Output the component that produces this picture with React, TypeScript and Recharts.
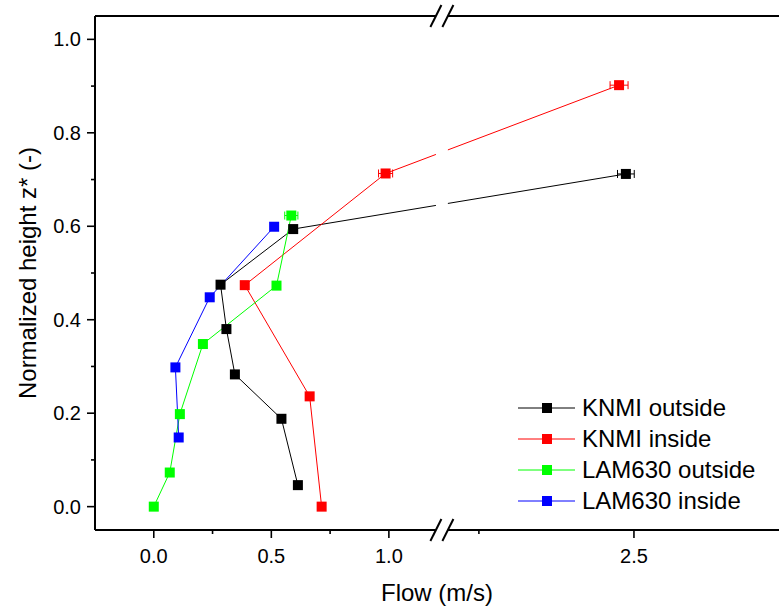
import React from 'react';
import {
  ScatterChart,
  Scatter,
  XAxis,
  YAxis,
  ErrorBar,
  ReferenceArea,
  ReferenceLine,
  Legend,
} from 'recharts';

// ---------- axis definition (real flow units) ----------
const X_MIN = -0.25;
const X_MAX = 3.0;
const Y_MIN = -0.05;
const Y_MAX = 1.05;
const BREAK_FROM = 1.2;
const BREAK_TO = 1.9;
const BREAK_GAP = 0.051; // width of the break gap, in left-segment units
const AFTER_SCALE = 1.319; // stretch of the segment after the break

const xMajorTicks = [0, 0.5, 1.0, 2.5];
const xMinorTicks = [0.25, 0.75, 2.0];
const yMajorTicks = [0, 0.2, 0.4, 0.6, 0.8, 1.0];
const yMinorTicks = [0.1, 0.3, 0.5, 0.7, 0.9];

// ---------- data ----------
const seriesNames = ['KNMI outside', 'KNMI inside', 'LAM630 outside', 'LAM630 inside'];
const seriesColors = ['#000000', '#ff0000', '#00ff00', '#0000ff'];

const knmiOutsideFlow = [0.613, 0.543, 0.345, 0.309, 0.284, 0.593, 2.474];
const knmiOutsideZ = [0.046, 0.188, 0.283, 0.38, 0.475, 0.594, 0.712];
const knmiOutsideErr = [0, 0, 0, 0, 0, 0, 0.027];

const knmiInsideFlow = [0.714, 0.663, 0.387, 0.986, 2.452];
const knmiInsideZ = [0.0, 0.236, 0.474, 0.713, 0.902];
const knmiInsideErr = [0, 0, 0, 0.03, 0.029];

const lamOutsideFlow = [0.0, 0.068, 0.111, 0.209, 0.522, 0.585];
const lamOutsideZ = [0.0, 0.073, 0.198, 0.348, 0.473, 0.623];
const lamOutsideErr = [0, 0, 0, 0, 0, 0.028];

const lamInsideFlow = [0.106, 0.092, 0.238, 0.512];
const lamInsideZ = [0.148, 0.298, 0.448, 0.599];
const lamInsideErr = [0, 0, 0, 0];

// ---------- broken-axis transform ----------
const toDisp = (v: number) =>
  v <= BREAK_FROM ? v : BREAK_FROM + BREAK_GAP + (v - BREAK_TO) * AFTER_SCALE;

const build = (flow: number[], z: number[], err: number[]) =>
  flow.map((f, i) => ({
    x: toDisp(f),
    y: z[i],
    err: toDisp(f + err[i]) - toDisp(f),
    hasErr: err[i] > 0,
  }));

const seriesData = [
  build(knmiOutsideFlow, knmiOutsideZ, knmiOutsideErr),
  build(knmiInsideFlow, knmiInsideZ, knmiInsideErr),
  build(lamOutsideFlow, lamOutsideZ, lamOutsideErr),
  build(lamInsideFlow, lamInsideZ, lamInsideErr),
];

const xTickInfo = [
  ...xMajorTicks.map((v) => ({ d: toDisp(v), major: true, label: v.toFixed(1) })),
  ...xMinorTicks.map((v) => ({ d: toDisp(v), major: false, label: '' })),
].sort((a, b) => a.d - b.d);
const xTicksDisp = xTickInfo.map((t) => t.d);

const yTickInfo = [
  ...yMajorTicks.map((v) => ({ d: v, major: true, label: v.toFixed(1) })),
  ...yMinorTicks.map((v) => ({ d: v, major: false, label: '' })),
].sort((a, b) => a.d - b.d);
const yTicks = yTickInfo.map((t) => t.d);

const FONT = '"Liberation Sans", Arial, Helvetica, sans-serif';
const MAJOR = 8;
const MINOR = 4;

const findTick = (list: { d: number; major: boolean; label: string }[], v: number) =>
  list.reduce((best, t) => (Math.abs(t.d - v) < Math.abs(best.d - v) ? t : best), list[0]);

const BottomTick = (p: any) => {
  const info = findTick(xTickInfo, p.payload.value);
  const len = info.major ? MAJOR : MINOR;
  return (
    <g>
      <line x1={p.x} y1={p.y} x2={p.x} y2={p.y + len} stroke="#000" strokeWidth={1.6} />
      {info.major && (
        <text x={p.x} y={p.y + 33} textAnchor="middle" fontSize={20} fontFamily={FONT} fill="#000">
          {info.label}
        </text>
      )}
    </g>
  );
};

const TopTick = (p: any) => {
  const info = findTick(xTickInfo, p.payload.value);
  const len = info.major ? MAJOR : MINOR;
  return <line x1={p.x} y1={p.y} x2={p.x} y2={p.y + len} stroke="#000" strokeWidth={1.6} />;
};

const LeftTick = (p: any) => {
  const info = findTick(yTickInfo, p.payload.value);
  const len = info.major ? MAJOR : MINOR;
  return (
    <g>
      <line x1={p.x} y1={p.y} x2={p.x - len} y2={p.y} stroke="#000" strokeWidth={1.6} />
      {info.major && (
        <text x={p.x - 14} y={p.y + 7} textAnchor="end" fontSize={20} fontFamily={FONT} fill="#000">
          {info.label}
        </text>
      )}
    </g>
  );
};

const RightTick = (p: any) => {
  const info = findTick(yTickInfo, p.payload.value);
  const len = info.major ? MAJOR + 4 : MINOR;
  return <line x1={p.x} y1={p.y} x2={p.x - len} y2={p.y} stroke="#000" strokeWidth={1.6} />;
};

const YTitle = (props: any) => {
  const vb = props.viewBox || { x: 0, y: 0, width: 0, height: 0 };
  const cx = vb.x + 27;
  const cy = vb.y + vb.height / 2;
  return (
    <text
      x={cx}
      y={cy}
      transform={`rotate(-90, ${cx}, ${cy})`}
      textAnchor="middle"
      dominantBaseline="central"
      fontSize={24}
      fontFamily={FONT}
      fill="#000"
    >
      Normalized height z* (-)
    </text>
  );
};

const XTitle = (props: any) => {
  const vb = props.viewBox || { x: 0, y: 0, width: 0, height: 0 };
  return (
    <text
      x={vb.x + vb.width / 2 - 5}
      y={vb.y + 71}
      textAnchor="middle"
      fontSize={24}
      fontFamily={FONT}
      fill="#000"
    >
      Flow (m/s)
    </text>
  );
};

const renderLegend = () => (
  <div style={{ fontFamily: FONT, fontSize: 24, color: '#000', lineHeight: '31px' }}>
    {seriesNames.map((name, i) => (
      <div key={name} style={{ display: 'flex', alignItems: 'center', height: 31 }}>
        <svg width={57} height={12} style={{ display: 'block' }}>
          <line x1={0} y1={6} x2={57} y2={6} stroke={seriesColors[i]} strokeWidth={1} />
          <rect x={24} y={1} width={10} height={10} fill={seriesColors[i]} />
        </svg>
        <span style={{ marginLeft: 7, whiteSpace: 'nowrap' }}>{name}</span>
      </div>
    ))}
  </div>
);

const slashDx = 0.0234;
const slashDy = 0.0236;

export default function App() {
  const bx1 = toDisp(BREAK_FROM);
  const bx2 = toDisp(BREAK_TO);
  return (
    <div
      style={{
        position: 'absolute',
        left: 0,
        top: 0,
        width: 779,
        height: 609,
        overflow: 'hidden',
        background: '#fff',
      }}
    >
      <ScatterChart width={789} height={609} margin={{ top: 0, right: 0, bottom: 0, left: 0 }}>
        <XAxis
          xAxisId="b"
          dataKey="x"
          type="number"
          orientation="bottom"
          domain={[toDisp(X_MIN), toDisp(X_MAX)]}
          ticks={xTicksDisp}
          interval={0}
          allowDataOverflow
          height={79}
          tickLine={false}
          tickSize={0}
          tickMargin={0}
          tick={(p: any) => <BottomTick {...p} />}
          axisLine={{ stroke: '#000', strokeWidth: 2 }}
          label={(p: any) => <XTitle {...p} />}
        />
        <XAxis
          xAxisId="t"
          type="number"
          orientation="top"
          domain={[toDisp(X_MIN), toDisp(X_MAX)]}
          ticks={xTicksDisp}
          interval={0}
          allowDataOverflow
          height={16}
          tickLine={false}
          tickSize={0}
          tickMargin={0}
          tick={(p: any) => <TopTick {...p} />}
          axisLine={{ stroke: '#000', strokeWidth: 2 }}
        />
        <YAxis
          yAxisId="l"
          dataKey="y"
          type="number"
          orientation="left"
          domain={[Y_MIN, Y_MAX]}
          ticks={yTicks}
          interval={0}
          allowDataOverflow
          width={95}
          tickLine={false}
          tickSize={0}
          tickMargin={0}
          tick={(p: any) => <LeftTick {...p} />}
          axisLine={{ stroke: '#000', strokeWidth: 2 }}
          label={(p: any) => <YTitle {...p} />}
        />
        <YAxis
          yAxisId="r"
          type="number"
          orientation="right"
          domain={[Y_MIN, Y_MAX]}
          ticks={yTicks}
          interval={0}
          allowDataOverflow
          width={0}
          tickLine={false}
          tickSize={0}
          tickMargin={0}
          tick={(p: any) => <RightTick {...p} />}
          axisLine={{ stroke: '#000', strokeWidth: 2 }}
        />

        {seriesData.map((data, i) => (
          <Scatter
            key={`line-${i}`}
            xAxisId="b"
            yAxisId="l"
            data={data}
            line={{ stroke: seriesColors[i], strokeWidth: 1 }}
            lineType="joint"
            shape={() => <g />}
            fill={seriesColors[i]}
            isAnimationActive={false}
            legendType="none"
          />
        ))}

        {seriesData.map((data, i) => (
          <Scatter
            key={`err-${i}`}
            xAxisId="b"
            yAxisId="l"
            data={data.filter((d) => d.hasErr)}
            shape={() => <g />}
            fill={seriesColors[i]}
            isAnimationActive={false}
            legendType="none"
          >
            <ErrorBar dataKey="err" direction="x" width={4} stroke={seriesColors[i]} strokeWidth={1} />
          </Scatter>
        ))}

        <ReferenceArea
          xAxisId="b"
          yAxisId="l"
          x1={bx1}
          x2={bx2}
          y1={Y_MIN - 0.01}
          y2={Y_MAX + 0.01}
          fill="#ffffff"
          fillOpacity={1}
          stroke="none"
          ifOverflow="visible"
          zIndex={650}
        />

        {[bx1, bx2].flatMap((bx) =>
          [Y_MIN, Y_MAX].map((yy) => (
            <ReferenceLine
              key={`sl-${bx}-${yy}`}
              xAxisId="b"
              yAxisId="l"
              segment={[
                { x: bx - slashDx, y: yy - slashDy },
                { x: bx + slashDx, y: yy + slashDy },
              ]}
              stroke="#000"
              strokeWidth={2}
              ifOverflow="visible"
              zIndex={700}
            />
          ))
        )}

        {seriesData.map((data, i) => (
          <Scatter
            key={`mk-${i}`}
            name={seriesNames[i]}
            xAxisId="b"
            yAxisId="l"
            data={data}
            fill={seriesColors[i]}
            isAnimationActive={false}
            shape={(p: any) => (
              <rect x={p.cx - 5} y={p.cy - 5} width={10} height={10} fill={seriesColors[i]} />
            )}
          />
        ))}

        <Legend
          layout="vertical"
          align="center"
          verticalAlign="middle"
          content={renderLegend}
          wrapperStyle={{ left: 518, top: 392, width: 260, right: 'auto', bottom: 'auto' }}
        />
      </ScatterChart>
    </div>
  );
}
